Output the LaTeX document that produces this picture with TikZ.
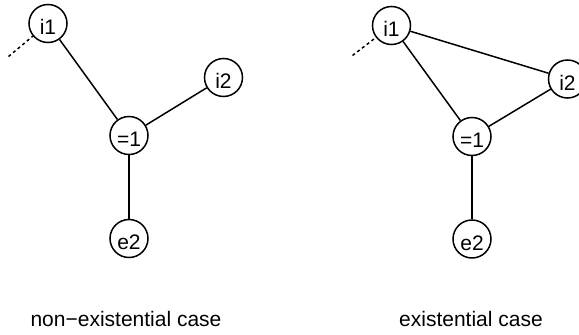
\documentclass[tikz,border=0pt]{standalone}
\usepackage{fontspec}
\setmainfont{Liberation Sans}
\begin{document}
\begin{tikzpicture}[x=1pt,y=-1pt,
  vertex/.style={circle,draw,line width=1.5pt,minimum size=38pt,inner sep=0pt,
    font=\fontsize{21}{24}\selectfont,text height=22pt,text depth=0pt},
  link/.style={line width=1.5pt},
  loose/.style={line width=1.5pt,dash pattern=on 3pt off 3pt},
  caption/.style={anchor=base,inner sep=0pt,font=\fontsize{21}{24}\selectfont}]
\useasboundingbox (0,0) rectangle (579,335);
\clip (0,0) rectangle (579,335);

% left graph
\node[vertex] (li1) at (48,23.5) {i1};
\node[vertex] (li2) at (223.5,77.5) {i2};
\node[vertex] (leq) at (129,135.5) {=1};
\node[vertex] (le2) at (129,238.5) {e2};
\coordinate (lout) at (8.5,56.5);
\draw[loose] (lout) -- (li1);
\draw[link] (li1) -- (leq);
\draw[link] (leq) -- (li2);
\draw[link] (leq) -- (le2);
\node[caption] (lcap) at (126,326.7) {non−existential case};

% right graph
\node[vertex] (ri1) at (391.5,25.5) {i1};
\node[vertex] (ri2) at (567.5,79) {i2};
\node[vertex] (req) at (472,136.5) {=1};
\node[vertex] (re2) at (472,239) {e2};
\coordinate (rout) at (352.5,55.5);
\draw[loose] (rout) -- (ri1);
\draw[link] (ri1) -- (req);
\draw[link] (ri1) -- (ri2);
\draw[link] (req) -- (ri2);
\draw[link] (req) -- (re2);
\node[caption] (rcap) at (471,326.7) {existential case};
\end{tikzpicture}
\end{document}
